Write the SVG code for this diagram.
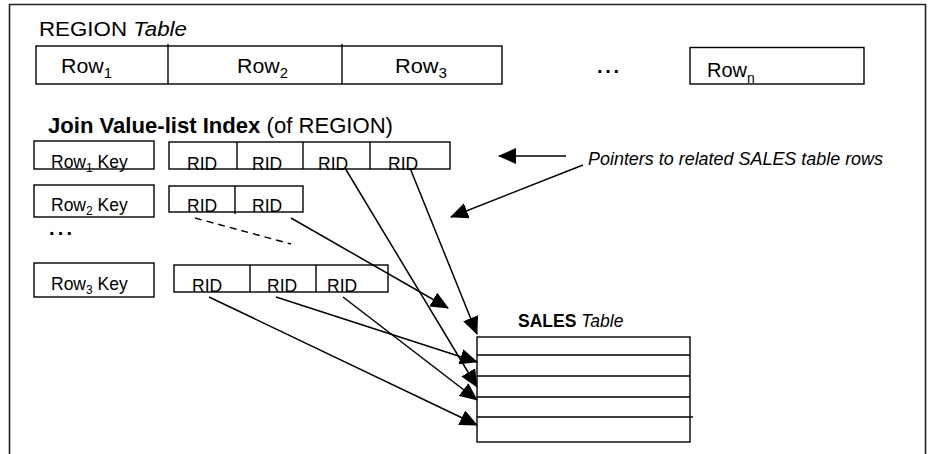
<svg xmlns="http://www.w3.org/2000/svg" width="931" height="454" viewBox="0 0 931 454">
<style>
  .box{fill:#fff;stroke:#000;stroke-width:1.4}
  .ln{fill:none;stroke:#000;stroke-width:1.4}
  .con{fill:none;stroke:#000;stroke-width:1.5;marker-end:url(#ah)}
  text{font-family:"Liberation Sans",Arial,sans-serif;fill:#000}
  .t20{font-size:20px}
  .t17{font-size:17.5px}
  .b{font-weight:bold}
  .i{font-style:italic}
</style>
<defs>
  <marker id="ah" viewBox="0 0 18 16" refX="17" refY="8" markerWidth="18" markerHeight="16" markerUnits="userSpaceOnUse" orient="auto">
    <path d="M0,0 L18,8 L0,16 z" fill="#000"/>
  </marker>
</defs>
<rect width="931" height="454" fill="#fff"/>
<path d="M9.5,454 V4.5 H925.5 V454" fill="none" stroke="#222" stroke-width="1.6"/>

<g id="region-table">
  <text class="t20" x="39" y="36" textLength="148" lengthAdjust="spacingAndGlyphs">REGION <tspan class="i">Table</tspan></text>
  <rect class="box" x="36" y="46" width="466" height="38"/>
  <line class="ln" x1="168" y1="44" x2="168" y2="84"/>
  <line class="ln" x1="342" y1="44" x2="342" y2="84"/>
  <text class="t20" x="61" y="73" textLength="51" lengthAdjust="spacingAndGlyphs">Row<tspan font-size="14" dy="5">1</tspan></text>
  <text class="t20" x="237" y="73" textLength="51" lengthAdjust="spacingAndGlyphs">Row<tspan font-size="14" dy="5">2</tspan></text>
  <text class="t20" x="395" y="73" textLength="52" lengthAdjust="spacingAndGlyphs">Row<tspan font-size="14" dy="5">3</tspan></text>
  <text class="t20 b" x="597" y="73" textLength="22" lengthAdjust="spacing">...</text>
  <rect class="box" x="690" y="47.5" width="174" height="36.5"/>
  <text class="t20" x="707" y="77">Row<tspan font-size="14" dy="6">n</tspan></text>
</g>

<g id="join-index">
  <text x="48" y="133" font-size="22" textLength="345" lengthAdjust="spacingAndGlyphs"><tspan class="b">Join Value-list Index</tspan> (of REGION)</text>
</g>

<g id="row1-key">
  <rect class="box" x="34" y="141" width="120" height="28"/>
  <text class="t17" x="51" y="168">Row<tspan font-size="12" dy="4">1</tspan><tspan dy="-4"> Key</tspan></text>
</g>
<g id="row1-rids">
  <rect class="box" x="169" y="142" width="281" height="27"/>
  <line class="ln" x1="237" y1="142" x2="237" y2="169"/>
  <line class="ln" x1="303" y1="142" x2="303" y2="169"/>
  <line class="ln" x1="370" y1="142" x2="370" y2="169"/>
  <text class="t17" x="187" y="170">RID</text>
  <text class="t17" x="252" y="170">RID</text>
  <text class="t17" x="318" y="170">RID</text>
  <text class="t17" x="388" y="170">RID</text>
</g>

<g id="row2-key">
  <rect class="box" x="34" y="185" width="120" height="32"/>
  <text class="t17" x="51" y="211">Row<tspan font-size="12" dy="4">2</tspan><tspan dy="-4"> Key</tspan></text>
</g>
<g id="row2-rids">
  <rect class="box" x="169" y="186" width="134" height="26"/>
  <line class="ln" x1="235" y1="186" x2="235" y2="214"/>
  <text class="t17" x="187" y="212">RID</text>
  <text class="t17" x="252" y="212">RID</text>
</g>

<g id="ellipsis">
  <text class="t20 b" x="49" y="235" textLength="23" lengthAdjust="spacing">...</text>
</g>

<g id="row3-key">
  <rect class="box" x="34" y="263" width="120" height="34"/>
  <text class="t17" x="51" y="290">Row<tspan font-size="12" dy="4">3</tspan><tspan dy="-4"> Key</tspan></text>
</g>
<g id="row3-rids">
  <rect class="box" x="174" y="265" width="214" height="27"/>
  <line class="ln" x1="250" y1="265" x2="250" y2="292"/>
  <line class="ln" x1="316" y1="265" x2="316" y2="292"/>
  <text class="t17" x="192" y="292">RID</text>
  <text class="t17" x="267" y="292">RID</text>
  <text class="t17" x="327" y="292">RID</text>
</g>

<g id="pointers-note">
  <text class="i" x="588" y="165" font-size="17.5" textLength="295" lengthAdjust="spacingAndGlyphs">Pointers to related SALES table rows</text>
</g>

<g id="sales-table">
  <text class="t17" x="518" y="327"><tspan class="b">SALES</tspan> <tspan class="i">Table</tspan></text>
  <rect class="box" x="477" y="337" width="213" height="105"/>
  <line class="ln" x1="477" y1="355" x2="690" y2="355"/>
  <line class="ln" x1="477" y1="376" x2="690" y2="376"/>
  <line class="ln" x1="477" y1="397" x2="690" y2="397"/>
  <line class="ln" x1="477" y1="417" x2="693" y2="417"/>
</g>

<g id="connectors">
  <line x1="195" y1="218" x2="291" y2="244" stroke="#000" stroke-width="1.4" stroke-dasharray="7,5"/>
  <line class="con" x1="345" y1="168" x2="477" y2="387"/>
  <line class="con" x1="410" y1="168" x2="477" y2="334"/>
  <line class="con" x1="291" y1="218" x2="448" y2="308"/>
  <line class="con" x1="209" y1="297" x2="477" y2="425"/>
  <line class="con" x1="276" y1="297" x2="477" y2="362"/>
  <line class="con" x1="343" y1="297" x2="477" y2="400"/>
  <line class="con" x1="566" y1="156" x2="499" y2="156"/>
  <line class="con" x1="583" y1="165" x2="451" y2="217"/>
</g>
</svg>
